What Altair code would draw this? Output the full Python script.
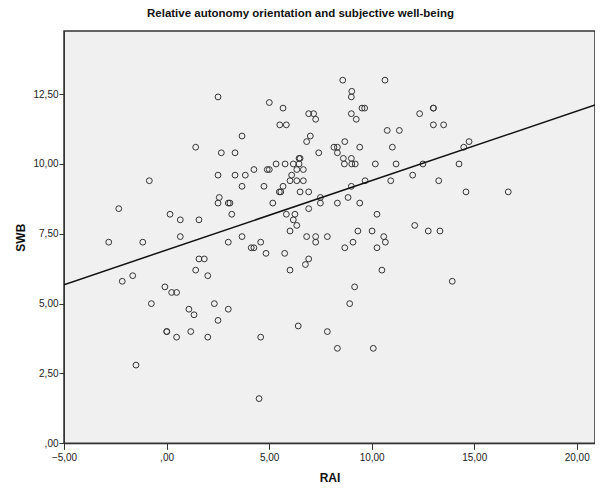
import altair as alt
import pandas as pd

rai = [8.59, 10.65, 9.03, 2.51, 1.42, 2.67, 2.51, -0.84, 2.57, 2.51, 3.01, 3.09, -2.33,
       9.01, 5.01, 5.68, 9.53, 9.66, 6.93, 7.17, 9.01, 7.27, 9.25, 5.52, 5.84, 10.76, 11.35,
       3.68, 7.01, 6.83, 8.69, 3.34, 7.42, 8.16, 8.33, 9.42, 11.01, 8.33, 8.62, 9.01, 6.46,
       6.51, 5.34, 5.78, 6.18, 6.46, 8.67, 9.03, 9.20, 10.18, 11.19, 4.26, 4.91, 5.01, 6.35,
       6.67, 3.34, 3.84, 6.10, 6.02, 6.35, 6.67, 3.68, 4.75, 5.68, 9.01, 9.68, 10.93, 5.50,
       5.57, 6.51, 6.93, 7.50, 8.85, 5.18, 7.50, 8.33, 9.42, 6.93,
       12.34, 13.01, 13.01, 13.01, 13.51, 14.75, 14.49, 12.50, 14.26, 12.00, 13.27, 14.60, 16.66,
       0.17, 0.67, 1.58, 3.18, 0.67, -2.82, -1.16, 3.01, 1.58, 1.84, 1.42, 2.01, -2.16, -1.65,
       -0.08, 0.25, 0.49, -0.74, 1.09, 1.34, 2.33, 3.01, 2.51,
       5.84, 6.26, 6.18, 6.35, 10.26, 6.02, 9.33, 10.02, 3.68, 6.83, 7.27, 7.84, 10.59, 4.59,
       7.27, 9.09, 10.67, 4.13, 4.26, 8.69, 10.26, 4.85, 5.76, 6.93, 6.77, 6.02, 10.50, 9.17, 8.93,
       12.10, 12.76, 13.33, 13.93,
       0.01, 0.01, 0.49, 1.18, 2.01, -1.49,
       4.59, 6.42, 7.84, 8.33, 10.08, 4.51]

swb = [13.0, 13.0, 12.6, 12.4, 10.6, 10.4, 9.6, 9.4, 8.8, 8.6, 8.6, 8.6, 8.4,
       12.4, 12.2, 12.0, 12.0, 12.0, 11.8, 11.8, 11.8, 11.6, 11.6, 11.4, 11.4, 11.2, 11.2,
       11.0, 11.0, 10.8, 10.8, 10.4, 10.4, 10.6, 10.6, 10.6, 10.6, 10.4, 10.2, 10.2, 10.2,
       10.2, 10.0, 10.0, 10.0, 10.0, 10.0, 10.0, 10.0, 10.0, 10.0, 9.8, 9.8, 9.8, 9.8,
       9.8, 9.6, 9.6, 9.6, 9.4, 9.4, 9.4, 9.2, 9.2, 9.2, 9.2, 9.4, 9.4, 9.0,
       9.0, 9.0, 9.0, 8.8, 8.8, 8.6, 8.6, 8.6, 8.6, 8.4,
       11.8, 12.0, 12.0, 11.4, 11.4, 10.8, 10.6, 10.0, 10.0, 9.6, 9.4, 9.0, 9.0,
       8.2, 8.0, 8.0, 8.2, 7.4, 7.2, 7.2, 7.2, 6.6, 6.6, 6.2, 6.0, 5.8, 6.0,
       5.6, 5.4, 5.4, 5.0, 4.8, 4.6, 5.0, 4.8, 4.4,
       8.2, 8.2, 8.0, 7.8, 8.2, 7.6, 7.6, 7.6, 7.4, 7.4, 7.4, 7.4, 7.4, 7.2,
       7.2, 7.2, 7.2, 7.0, 7.0, 7.0, 7.0, 6.8, 6.8, 6.6, 6.4, 6.2, 6.2, 5.6, 5.0,
       7.8, 7.6, 7.6, 5.8,
       4.0, 4.0, 3.8, 4.0, 3.8, 2.8,
       3.8, 4.2, 4.0, 3.4, 3.4, 1.6]

x_ticks = [-5, 0, 5, 10, 15, 20]
y_ticks = [0, 2.5, 5, 7.5, 10, 12.5]
x_domain = [-5, 20.89]
y_domain = [0, 14.76]

df = pd.DataFrame({"RAI": rai, "SWB": swb})

label_expr = "datum.value == 0 ? ',00' : replace(format(datum.value, '.2f'), '.', ',')"
FONT = "Liberation Sans"

x_enc = alt.X(
    "RAI:Q",
    scale=alt.Scale(domain=x_domain, nice=False, zero=False),
    axis=alt.Axis(values=x_ticks, labelExpr=label_expr, grid=False, tickSize=6,
                  tickColor="#333", domainColor="#333", labelColor="#222",
                  labelFontSize=10, labelFont=FONT, labelPadding=3, labelFlush=False,
                  title="RAI", titleFont=FONT, titleFontSize=12, titleFontWeight="bold",
                  titleColor="#111", titlePadding=10),
)
y_enc = alt.Y(
    "SWB:Q",
    scale=alt.Scale(domain=y_domain, nice=False, zero=False),
    axis=alt.Axis(values=y_ticks, labelExpr=label_expr, grid=False, tickSize=5,
                  tickColor="#333", domainColor="#333", labelColor="#222",
                  labelFontSize=10, labelFont=FONT, labelPadding=1, labelFlush=False,
                  title="SWB", titleFont=FONT, titleFontSize=12, titleFontWeight="bold",
                  titleColor="#111", titlePadding=5),
)

points = alt.Chart(df).mark_point(
    shape="circle", filled=False, size=34, color="#333", strokeWidth=1, opacity=1
).encode(x=x_enc, y=y_enc)

line = alt.Chart(df).transform_regression(
    "RAI", "SWB", extent=x_domain
).mark_line(color="#111", strokeWidth=1.5, clip=True).encode(x="RAI:Q", y="SWB:Q")

chart = alt.layer(points, line).properties(
    width=531,
    height=412.3,
    title=alt.TitleParams(
        "Relative autonomy orientation and subjective well-being",
        font=FONT, fontSize=11.5, fontWeight="bold", color="#111",
        anchor="middle", dx=-29, offset=11,
    ),
    padding={"left": 56, "top": 23, "right": 0, "bottom": 50},
    autosize="none",
).configure_view(fill="#f0f0f0", stroke="#333", strokeWidth=1.5)

chart.save("out.html", embed_options={"renderer": "svg", "actions": False})
